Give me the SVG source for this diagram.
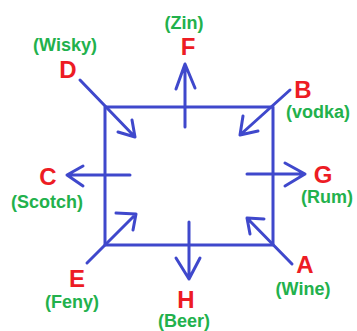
<svg xmlns="http://www.w3.org/2000/svg" width="357" height="331" viewBox="0 0 357 331">
<style>
.c{stroke:#3f48cc;stroke-width:3;fill:none;stroke-linecap:round;stroke-linejoin:round}
.l{font-family:"Liberation Sans",Arial,sans-serif;font-weight:bold;font-size:24px;fill:#ed1c24;text-anchor:middle}
.s{font-family:"Liberation Sans",Arial,sans-serif;font-weight:bold;font-size:18px;fill:#22b14c;text-anchor:middle}
</style>
<rect width="357" height="331" fill="#fff"/>
<g id="connectors" class="c">
<rect x="105" y="107" width="168" height="138"/>
<path d="M80 80 L135 137 M118 132 L135 137 L132 120"/>
<path d="M290 90 L240 135 M243 116 L240 135 L258 131"/>
<path d="M185 127 L185 64 M176 89 L185 64 L195 88"/>
<path d="M130 175 L67 175 M83 166 L67 175 L83 186"/>
<path d="M247 174 L305 174 M285 163 L305 174 L285 186"/>
<path d="M87 263 L136 214 M116 213 L136 214 L133 230"/>
<path d="M292 264 L247 218 M264 219 L247 218 L250 234"/>
<path d="M189 222 L189 279 M176 258 L189 279 L200 258"/>
</g>
<g id="D"><text class="l" x="68" y="78">D</text><text class="s" x="65" y="51">(Wisky)</text></g>
<g id="F"><text class="l" x="188" y="55">F</text><text class="s" x="184" y="29">(Zin)</text></g>
<g id="B"><text class="l" x="303" y="98">B</text><text class="s" x="318" y="118">(vodka)</text></g>
<g id="C"><text class="l" x="48" y="185">C</text><text class="s" x="47" y="208">(Scotch)</text></g>
<g id="G"><text class="l" x="323" y="183">G</text><text class="s" x="327" y="203">(Rum)</text></g>
<g id="E"><text class="l" x="77" y="287">E</text><text class="s" x="72" y="308">(Feny)</text></g>
<g id="H"><text class="l" x="186" y="308">H</text><text class="s" x="184" y="327">(Beer)</text></g>
<g id="A"><text class="l" x="305" y="273">A</text><text class="s" x="303" y="295">(Wine)</text></g>
</svg>
